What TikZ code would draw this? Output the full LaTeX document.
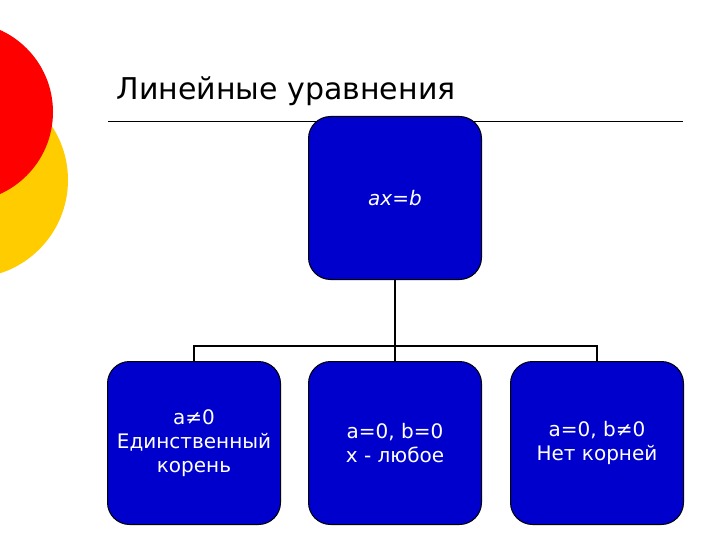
\documentclass[tikz,border=0pt]{standalone}
\usepackage{fontspec}
\setmainfont{DejaVu Sans}
\begin{document}
\begin{tikzpicture}[x=1pt,y=-1pt,
  box/.style={draw=black,line width=1pt,fill=boxblue,rounded corners=22pt,minimum width=173pt,minimum height=163pt,text=white,align=center,font=\fontsize{20}{24}\selectfont},
  conn/.style={draw=black,line width=2pt}]
\definecolor{boxblue}{RGB}{0,0,204}
\definecolor{ylw}{RGB}{255,204,0}
\path[use as bounding box] (0,0) rectangle (720,540);
\fill[ylw] (-30,180) circle (98);
\fill[red] (-37,112) circle (90);
\node[anchor=west,font=\fontsize{30}{34}\selectfont] (title) at (113,91) {Линейные уравнения};
\draw[line width=0.6pt] (108,121) -- (683,121);
\node[box] (top) at (395,198) {\textit{ax=b}};
\node[box] (b1) at (194,443) {a≠0\\Единственный\\корень};
\node[box] (b2) at (395,443) {a=0, b=0\\x - любое};
\node[box] (b3) at (597,443) {a=0, b≠0\\Нет корней};
\coordinate (j) at (395,346);
\draw[conn] (top.south) -- (j);
\draw[conn] (b1.north) |- (j) -| (b3.north);
\draw[conn] (j) -- (b2.north);
\end{tikzpicture}
\end{document}
